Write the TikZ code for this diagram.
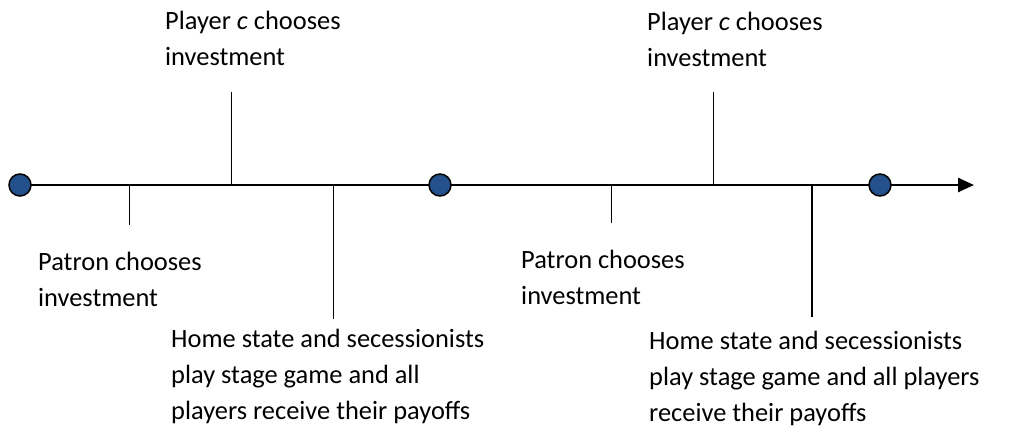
\documentclass[tikz,border=0pt]{standalone}
\usepackage{fontspec}
\setmainfont{Carlito}
\usetikzlibrary{arrows.meta}
\definecolor{dotblue}{RGB}{36,80,140}
\begin{document}
\begin{tikzpicture}[x=1pt,y=-1pt,
  mainline/.style={line width=2.5pt,black},
  tickline/.style={line width=1.8pt,black},
  event/.style={circle,draw=black,line width=1.5pt,fill=dotblue,minimum size=22pt,inner sep=0pt},
  lbl/.style={anchor=base west,inner sep=0pt,align=left,font=\fontsize{26.4}{35.8}\selectfont}]
\useasboundingbox (0,0) rectangle (1023,442);
% axis
\coordinate (start) at (20,185);
\coordinate (tip) at (974,185);
\draw[mainline,-{Triangle[length=16pt,width=14pt]}] (start) -- (tip);
% tick anchors on axis
\coordinate (a1) at (129.5,185);
\coordinate (b1) at (231.5,185);
\coordinate (c1) at (333.5,185);
\coordinate (a2) at (611.5,185);
\coordinate (b2) at (713.5,185);
\coordinate (c2) at (812,185);
% tick ends
\coordinate (a1e) at (129.5,225);
\coordinate (b1e) at (231.5,92);
\coordinate (c1e) at (333.5,319);
\coordinate (a2e) at (611.5,223);
\coordinate (b2e) at (713.5,92);
\coordinate (c2e) at (812,317);
\draw[tickline] (a1) -- (a1e);
\draw[tickline] (b1) -- (b1e);
\draw[tickline] (c1) -- (c1e);
\draw[tickline] (a2) -- (a2e);
\draw[tickline] (b2) -- (b2e);
\draw[tickline] (c2) -- (c2e);
% event dots
\node[event] (d1) at (20,185) {};
\node[event] (d2) at (440,185) {};
\node[event] (d3) at (880,185) {};
% labels (anchored at the baseline of the last line)
\node[lbl] (p1) at (165,65) {Player \textit{c} chooses\\investment};
\node[lbl] (p2) at (647,66) {Player \textit{c} chooses\\investment};
\node[lbl] (q1) at (38,306) {Patron chooses\\investment};
\node[lbl] (q2) at (521,304) {Patron chooses\\investment};
\node[lbl] (h1) at (171,419) {Home state and secessionists\\play stage game and all\\players receive their payoffs};
\node[lbl] (h2) at (649,421) {Home state and secessionists\\play stage game and all players\\receive their payoffs};
\end{tikzpicture}
\end{document}
